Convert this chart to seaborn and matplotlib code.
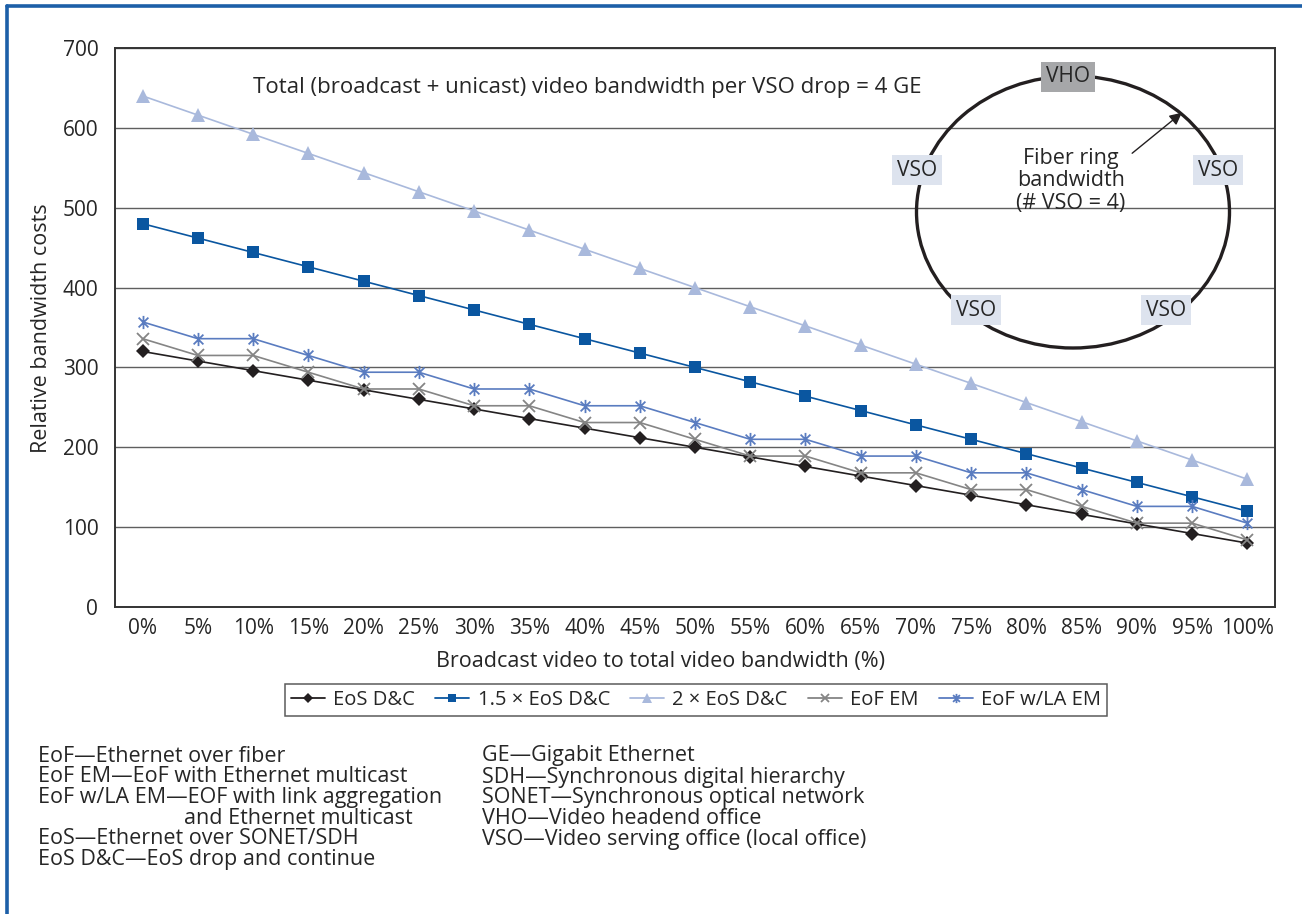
import matplotlib
matplotlib.use("Agg")
import matplotlib.pyplot as plt
from matplotlib.path import Path
from matplotlib.patches import Ellipse, FancyArrowPatch
from matplotlib.lines import Line2D
import pandas as pd
import seaborn as sns

# ---- data -------------------------------------------------------------
shares = ["0%", "5%", "10%", "15%", "20%", "25%", "30%", "35%", "40%", "45%",
          "50%", "55%", "60%", "65%", "70%", "75%", "80%", "85%", "90%", "95%", "100%"]

eos_dc = [320, 308, 296, 284, 272, 260, 248, 236, 224, 212, 200,
          188, 176, 164, 152, 140, 128, 116, 104, 92, 80]
eos_dc_x15 = [480, 462, 444, 426, 408, 390, 372, 354, 336, 318, 300,
              282, 264, 246, 228, 210, 192, 174, 156, 138, 120]
eos_dc_x2 = [640, 616, 592, 568, 544, 520, 496, 472, 448, 424, 400,
             376, 352, 328, 304, 280, 256, 232, 208, 184, 160]
eof_em = [336, 315, 315, 294, 273, 273, 252, 252, 231, 231, 210,
          189, 189, 168, 168, 147, 147, 126, 105, 105, 84]
eof_la_em = [357, 336, 336, 315, 294, 294, 273, 273, 252, 252, 231,
             210, 210, 189, 189, 168, 168, 147, 126, 126, 105]

series_labels = ["EoS D&C", "1.5 \u00d7 EoS D&C", "2 \u00d7 EoS D&C", "EoF EM", "EoF w/LA EM"]
series_values = [eos_dc, eos_dc_x15, eos_dc_x2, eof_em, eof_la_em]

y_ticks = [0, 100, 200, 300, 400, 500, 600, 700]

glossary_left = ["EoF\u2014Ethernet over fiber",
                 "EoF EM\u2014EoF with Ethernet multicast",
                 "EoF w/LA EM\u2014EOF with link aggregation",
                 "EoS\u2014Ethernet over SONET/SDH",
                 "EoS D&C\u2014EoS drop and continue"]
glossary_left_cont = "and Ethernet multicast"
glossary_right = ["GE\u2014Gigabit Ethernet",
                  "SDH\u2014Synchronous digital hierarchy",
                  "SONET\u2014Synchronous optical network",
                  "VHO\u2014Video headend office",
                  "VSO\u2014Video serving office (local office)"]

# ---- styling ----------------------------------------------------------
sns.set_style("white")
FONT = ["Open Sans", "DejaVu Sans"]
plt.rcParams["font.family"] = FONT
FS = 15

W, H = 1302, 914
fig = plt.figure(figsize=(W / 100, H / 100), dpi=100)


def fx(x):
    return x / W


def fy(y):
    return 1 - y / H


# asterisk marker: an X with a vertical bar through it
star = Path([(-1, -1), (1, 1), (-1, 1), (1, -1), (0, -1.35), (0, 1.35)],
            [Path.MOVETO, Path.LINETO, Path.MOVETO, Path.LINETO, Path.MOVETO, Path.LINETO])

styles = [
    dict(color="#231f20", marker="D", markersize=7.5, mew=0),
    dict(color="#0a56a0", marker="s", markersize=8.5, mew=0),
    dict(color="#a9b9dc", marker="^", markersize=9.5, mew=0),
    dict(color="#858585", marker="x", markersize=8.5, mew=1.3),
    dict(color="#5a7cc0", marker=star, markersize=9.5, mew=1.3),
]

left, right, top, bottom = 115, 1275, 48, 607
ax = fig.add_axes([fx(left), fy(bottom), fx(right - left), (bottom - top) / H])

rows = []
for lab, vals in zip(series_labels, series_values):
    for i, v in enumerate(vals):
        rows.append({"series": lab, "pos": i, "cost": v})
df = pd.DataFrame(rows)

for lab, st in zip(series_labels, styles):
    sub = df[df["series"] == lab]
    sns.lineplot(data=sub, x="pos", y="cost", ax=ax, color=st["color"], marker=st["marker"],
                 markersize=st["markersize"], markeredgewidth=st["mew"],
                 markeredgecolor=st["color"], markerfacecolor=st["color"],
                 linewidth=1.2, legend=False, zorder=3)

ax.set_xlim(-0.5, len(shares) - 0.5)
ax.set_ylim(0, 700)
ax.set_yticks(y_ticks)
ax.set_yticklabels([str(t) for t in y_ticks], fontsize=FS)
ax.yaxis.grid(True, color="#5f5f5f", linewidth=1.0)
ax.set_axisbelow(True)

# category boundaries carry the tick marks, centres carry the labels
ax.set_xticks([i - 0.5 for i in range(len(shares) + 1)])
ax.set_xticklabels([])
ax.set_xticks(range(len(shares)), minor=True)
ax.set_xticklabels(shares, minor=True, fontsize=FS)
ax.tick_params(axis="x", which="major", direction="out", length=5, width=1.1, color="#333333")
ax.tick_params(axis="x", which="minor", length=0, pad=8)
ax.tick_params(axis="y", direction="out", length=7, width=1.1, color="#333333", pad=5)
ax.set_xlabel("")
ax.set_ylabel("")
for sp in ax.spines.values():
    sp.set_color("#333333")
    sp.set_linewidth(1.4)
    sp.set_visible(True)

fig.text(fx(42), fy(328), "Relative bandwidth costs", rotation=90, ha="center", va="center", fontsize=15.5)
fig.text(fx(661), fy(662), "Broadcast video to total video bandwidth (%)", ha="center", va="center",
         fontsize=15.5)

fig.text(fx(253), fy(87), "Total (broadcast + unicast) video bandwidth per VSO drop = 4 GE",
         ha="left", va="center", fontsize=16)

# ring diagram
ring = Ellipse((fx(1073), fy(212)), fx(313), 272 / H, transform=fig.transFigure,
               fill=False, edgecolor="#231f20", linewidth=2.4, zorder=4)
fig.add_artist(ring)

arrow = FancyArrowPatch((fx(1130), fy(155)), (fx(1184), fy(111)), transform=fig.transFigure,
                        arrowstyle="-|>", mutation_scale=18, color="#231f20", linewidth=1.0, zorder=5)
fig.add_artist(arrow)

fig.text(fx(1071), fy(181), "Fiber ring\nbandwidth\n(# VSO = 4)", ha="center", va="center",
         fontsize=15.5, linespacing=1.08, zorder=6)

node_boxes = [("VHO", 1068, 77, "#a6a7a9"),
              ("VSO", 917, 170, "#dde3ee"),
              ("VSO", 1218, 170, "#dde3ee"),
              ("VSO", 976, 310, "#dde3ee"),
              ("VSO", 1166, 310, "#dde3ee")]
for txt, x, y, bg in node_boxes:
    fig.text(fx(x), fy(y), txt, ha="center", va="center", fontsize=FS, zorder=7,
             bbox=dict(boxstyle="square,pad=0.22", facecolor=bg, edgecolor="none"))

# legend
handles = [Line2D([], [], color=st["color"], marker=st["marker"], markersize=st["markersize"] * 0.7,
                  markeredgewidth=st["mew"], markeredgecolor=st["color"], markerfacecolor=st["color"],
                  linewidth=1.3) for st in styles]
leg = fig.legend(handles, series_labels, loc="center", bbox_to_anchor=(fx(696), fy(700)), ncol=5,
                 frameon=True, fancybox=False, edgecolor="#333333", handlelength=1.7,
                 handletextpad=0.4, columnspacing=1.0, borderpad=0.3,
                 prop={"family": FONT, "size": 14.5})
leg.get_frame().set_linewidth(1.1)

# abbreviations
GFS = 15.5
left_rows = [756, 777, 798, 839, 860]
for txt, y in zip(glossary_left, left_rows):
    fig.text(fx(38), fy(y), txt, ha="left", va="center", fontsize=GFS)
fig.text(fx(184), fy(818), glossary_left_cont, ha="left", va="center", fontsize=GFS)
for txt, y in zip(glossary_right, [756, 777, 798, 818, 839]):
    fig.text(fx(482), fy(y), txt, ha="left", va="center", fontsize=GFS)

# page frame: top and left rules
fig.add_artist(Line2D([fx(7), 1], [fy(6), fy(6)], transform=fig.transFigure, color="#1c5fa8", linewidth=2.6))
fig.add_artist(Line2D([fx(7), fx(7)], [fy(6), 0], transform=fig.transFigure, color="#1c5fa8", linewidth=2.6))

fig.savefig("out.png", dpi=100)
